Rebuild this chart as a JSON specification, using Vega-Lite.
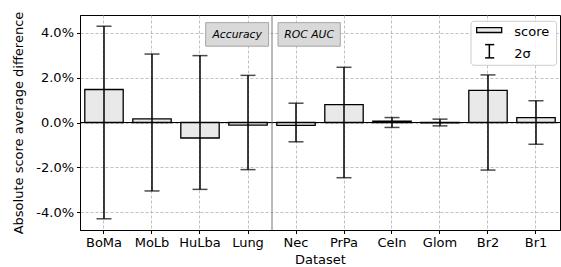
{
  "$schema": "https://vega.github.io/schema/vega-lite/v6.json",
  "width": 480,
  "height": 215,
  "autosize": {"type": "none"},
  "padding": {"left": 80, "top": 15, "right": 1, "bottom": 37},
  "background": "white",
  "config": {
    "font": "DejaVu Sans",
    "view": {"stroke": "black", "strokeWidth": 1},
    "axis": {
      "labelFont": "DejaVu Sans", "titleFont": "DejaVu Sans",
      "labelFontSize": 13, "titleFontSize": 13, "titleFontWeight": "normal",
      "labelColor": "black", "titleColor": "black",
      "domainColor": "black", "tickColor": "black", "tickSize": 3.5, "labelPadding": 3,
      "gridColor": "#b0b0b0", "gridDash": [3, 2], "gridWidth": 0.8
    }
  },
  "datasets": {
    "main": [
      {"cat": "BoMa", "score": 0.0147, "err": 0.0429},
      {"cat": "MoLb", "score": 0.0016, "err": 0.0305},
      {"cat": "HuLba", "score": -0.0069, "err": 0.0298},
      {"cat": "Lung", "score": -0.0012, "err": 0.0210},
      {"cat": "Nec", "score": -0.0013, "err": 0.0086},
      {"cat": "PrPa", "score": 0.0080, "err": 0.0246},
      {"cat": "CeIn", "score": 0.0006, "err": 0.0022},
      {"cat": "Glom", "score": -0.0002, "err": 0.0015},
      {"cat": "Br2", "score": 0.0143, "err": 0.0212},
      {"cat": "Br1", "score": 0.0022, "err": 0.0097}
    ],
    "boxes": [
      {"label": "Accuracy", "x1": 2.618, "x2": 3.93, "y1": 0.0445, "y2": 0.034, "tx": 3.274, "ty": 0.0392},
      {"label": "ROC AUC", "x1": 4.125, "x2": 5.423, "y1": 0.0445, "y2": 0.034, "tx": 4.774, "ty": 0.0392}
    ],
    "legframe": [{"x1": 8.146, "x2": 9.93, "y1": 0.0451, "y2": 0.0255}],
    "legpatch": [{"x1": 8.264, "x2": 8.785, "y1": 0.0423, "y2": 0.0401}],
    "legvline": [{"x": 8.528, "y1": 0.0347, "y2": 0.0288}],
    "legcaps": [{"x1": 8.44, "x2": 8.63, "y": 0.0347}, {"x1": 8.44, "x2": 8.63, "y": 0.0288}],
    "legtext": [{"t": "score", "x": 9.048, "y": 0.0404}, {"t": "2σ", "x": 9.048, "y": 0.0307}],
    "sep": [{"x": 4}],
    "zero": [{"y": 0}]
  },
  "encoding": {
    "y": {
      "type": "quantitative",
      "scale": {"domain": [-0.0479, 0.0479], "nice": false, "zero": false}
    }
  },
  "layer": [
    {
      "data": {"name": "main"},
      "mark": {"type": "bar", "fill": "#e9e9e9", "stroke": "black", "strokeWidth": 1.3},
      "encoding": {
        "x": {
          "field": "cat", "type": "nominal", "sort": null,
          "scale": {"paddingInner": 0.2, "paddingOuter": 0.1},
          "axis": {"title": "Dataset", "labelAngle": 0, "grid": true, "bandPosition": 0.5, "titlePadding": 4}
        },
        "y": {
          "field": "score", "type": "quantitative",
          "axis": {
            "title": "Absolute score average difference",
            "values": [-0.04, -0.02, 0, 0.02, 0.04],
            "labelExpr": "replace(format(datum.value, '.1%'), '−', '-')",
            "grid": true, "titlePadding": 10
          }
        }
      }
    },
    {
      "data": {"name": "main"},
      "transform": [{"calculate": "-datum.err", "as": "lo"}],
      "mark": {"type": "rule", "color": "black", "strokeWidth": 1.5},
      "encoding": {
        "x": {"field": "cat", "type": "nominal", "sort": null, "axis": null},
        "y": {"field": "lo", "type": "quantitative"},
        "y2": {"field": "err"}
      }
    },
    {
      "data": {"name": "main"},
      "mark": {"type": "tick", "color": "black", "thickness": 1.5, "size": 15, "orient": "horizontal"},
      "encoding": {
        "x": {"field": "cat", "type": "nominal", "sort": null, "axis": null},
        "y": {"field": "err", "type": "quantitative"}
      }
    },
    {
      "data": {"name": "main"},
      "transform": [{"calculate": "-datum.err", "as": "lo"}],
      "mark": {"type": "tick", "color": "black", "thickness": 1.5, "size": 15, "orient": "horizontal"},
      "encoding": {
        "x": {"field": "cat", "type": "nominal", "sort": null, "axis": null},
        "y": {"field": "lo", "type": "quantitative"}
      }
    },
    {
      "data": {"name": "zero"},
      "mark": {"type": "rule", "color": "black", "strokeWidth": 1.2},
      "encoding": {"y": {"field": "y", "type": "quantitative"}}
    },
    {
      "data": {"name": "sep"},
      "mark": {"type": "rule", "color": "#777777", "strokeWidth": 1},
      "encoding": {
        "x": {"field": "x", "type": "quantitative", "scale": {"domain": [0, 10], "nice": false, "zero": false}, "axis": null}
      }
    },
    {
      "data": {"name": "boxes"},
      "mark": {"type": "rect", "fill": "#d9d9d9", "stroke": "#a6a6a6", "strokeWidth": 1},
      "encoding": {
        "x": {"field": "x1", "type": "quantitative", "scale": {"domain": [0, 10], "nice": false, "zero": false}, "axis": null},
        "x2": {"field": "x2"},
        "y": {"field": "y1", "type": "quantitative"},
        "y2": {"field": "y2"}
      }
    },
    {
      "data": {"name": "boxes"},
      "mark": {"type": "text", "fontStyle": "italic", "fontSize": 10.8, "color": "black", "align": "center", "baseline": "middle"},
      "encoding": {
        "x": {"field": "tx", "type": "quantitative", "scale": {"domain": [0, 10], "nice": false, "zero": false}, "axis": null},
        "y": {"field": "ty", "type": "quantitative"},
        "text": {"field": "label"}
      }
    },
    {
      "data": {"name": "legframe"},
      "mark": {"type": "rect", "fill": "white", "fillOpacity": 0.85, "stroke": "#cccccc", "strokeWidth": 1, "cornerRadius": 3},
      "encoding": {
        "x": {"field": "x1", "type": "quantitative", "scale": {"domain": [0, 10], "nice": false, "zero": false}, "axis": null},
        "x2": {"field": "x2"},
        "y": {"field": "y1", "type": "quantitative"},
        "y2": {"field": "y2"}
      }
    },
    {
      "data": {"name": "legpatch"},
      "mark": {"type": "rect", "fill": "#e9e9e9", "stroke": "black", "strokeWidth": 1.3},
      "encoding": {
        "x": {"field": "x1", "type": "quantitative", "scale": {"domain": [0, 10], "nice": false, "zero": false}, "axis": null},
        "x2": {"field": "x2"},
        "y": {"field": "y1", "type": "quantitative"},
        "y2": {"field": "y2"}
      }
    },
    {
      "data": {"name": "legvline"},
      "mark": {"type": "rule", "color": "black", "strokeWidth": 1.5},
      "encoding": {
        "x": {"field": "x", "type": "quantitative", "scale": {"domain": [0, 10], "nice": false, "zero": false}, "axis": null},
        "y": {"field": "y1", "type": "quantitative"},
        "y2": {"field": "y2"}
      }
    },
    {
      "data": {"name": "legcaps"},
      "mark": {"type": "rule", "color": "black", "strokeWidth": 1.5},
      "encoding": {
        "x": {"field": "x1", "type": "quantitative", "scale": {"domain": [0, 10], "nice": false, "zero": false}, "axis": null},
        "x2": {"field": "x2"},
        "y": {"field": "y", "type": "quantitative"}
      }
    },
    {
      "data": {"name": "legtext"},
      "mark": {"type": "text", "fontSize": 13, "color": "black", "align": "left", "baseline": "middle"},
      "encoding": {
        "x": {"field": "x", "type": "quantitative", "scale": {"domain": [0, 10], "nice": false, "zero": false}, "axis": null},
        "y": {"field": "y", "type": "quantitative"},
        "text": {"field": "t"}
      }
    }
  ],
  "resolve": {"scale": {"x": "independent"}, "axis": {"x": "independent"}}
}
